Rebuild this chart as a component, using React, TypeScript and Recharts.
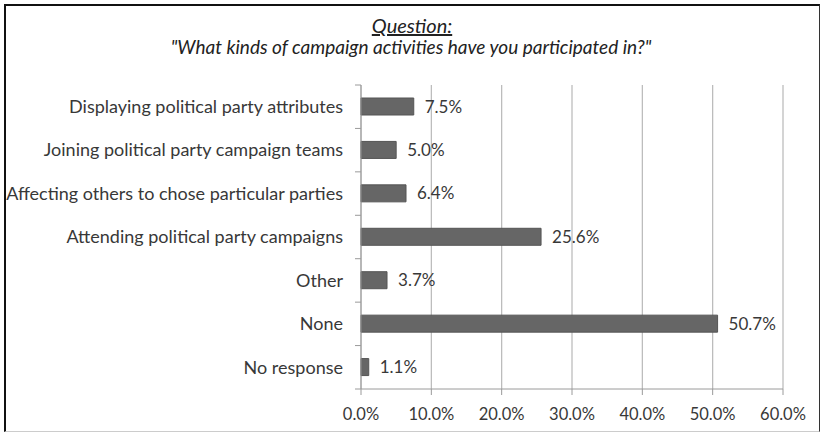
import React from 'react';
import { BarChart, Bar, XAxis, YAxis, CartesianGrid, LabelList } from 'recharts';

const categories = [
  'Displaying political party attributes',
  'Joining political party campaign teams',
  'Affecting others to chose particular parties',
  'Attending political party campaigns',
  'Other',
  'None',
  'No response',
];
const values = [7.5, 5.0, 6.4, 25.6, 3.7, 50.7, 1.1];
const xTicks = [0, 10, 20, 30, 40, 50, 60];
const titleLine1 = 'Question:';
const titleLine2 = '"What kinds of campaign activities have you participated in?"';

const data = categories.map((name, i) => ({ name, value: values[i] }));

const W = 822;
const H = 433;
const TOP = 85;
const XAXIS_H = 44;
const BAND = (H - TOP - XAXIS_H) / categories.length;
const FONT = 'Lato, "Open Sans", sans-serif';

const fmt = (v: number) => `${Number(v).toFixed(1)}%`;

const YTick = (props: any) => {
  const { x, y, payload, index } = props;
  return (
    <g>
      <line x1={x - 6} x2={x} y1={y - BAND / 2} y2={y - BAND / 2} stroke="#9a9a9a" strokeWidth={1} />
      {index === categories.length - 1 && (
        <line x1={x - 6} x2={x} y1={y + BAND / 2} y2={y + BAND / 2} stroke="#9a9a9a" strokeWidth={1} />
      )}
      <text x={x - 18} y={y} dy="0.35em" textAnchor="end" fill="#383838" fontSize={18} fontFamily={FONT}>
        {payload.value}
      </text>
    </g>
  );
};

export default function App() {
  return (
    <div style={{ position: 'absolute', left: 0, top: 0, width: W, height: H, background: '#fff' }}>
      <BarChart
        width={W}
        height={H}
        data={data}
        layout="vertical"
        margin={{ top: TOP, right: 39, bottom: 0, left: 0 }}
        barCategoryGap={0}
      >
        <CartesianGrid horizontal={false} vertical stroke="#b8b8b8" strokeWidth={1.2} />
        <XAxis
          type="number"
          domain={[0, 60]}
          ticks={xTicks}
          tickFormatter={fmt}
          height={XAXIS_H}
          axisLine={{ stroke: '#9a9a9a' }}
          tickLine={{ stroke: '#9a9a9a' }}
          tickSize={6}
          tickMargin={13}
          tick={{ fill: '#383838', fontSize: 16.5, fontFamily: FONT }}
          interval={0}
        />
        <YAxis
          type="category"
          dataKey="name"
          width={361}
          axisLine={{ stroke: '#9a9a9a' }}
          tickLine={false}
          tickSize={0}
          tickMargin={0}
          tick={<YTick />}
          interval={0}
        />
        <Bar dataKey="value" fill="#666666" stroke="#555555" strokeWidth={1} barSize={17} isAnimationActive={false}>
          <LabelList
            dataKey="value"
            position="right"
            offset={11}
            formatter={(v: any) => fmt(v)}
            fill="#383838"
            fontSize={17}
            fontFamily={FONT}
          />
        </Bar>
      </BarChart>
      <svg width={W} height={H} style={{ position: 'absolute', left: 0, top: 0, pointerEvents: 'none' }}>
        <text
          x={412}
          y={33}
          textAnchor="middle"
          fontFamily={FONT}
          fontStyle="italic"
          fontSize={20}
          fill="#222"
          style={{ textDecoration: 'underline' }}
        >
          {titleLine1}
        </text>
        <text x={411} y={54} textAnchor="middle" fontFamily={FONT} fontStyle="italic" fontSize={19} fill="#222">
          {titleLine2}
        </text>
      </svg>
      <div
        style={{
          position: 'absolute',
          left: 4,
          top: 4,
          width: 816,
          height: 428,
          boxSizing: 'border-box',
          borderLeft: '2px solid #111',
          borderTop: '2px solid #111',
          borderRight: '1.5px solid #333',
          borderBottom: '1px solid #ccc',
          pointerEvents: 'none',
        }}
      />
    </div>
  );
}
